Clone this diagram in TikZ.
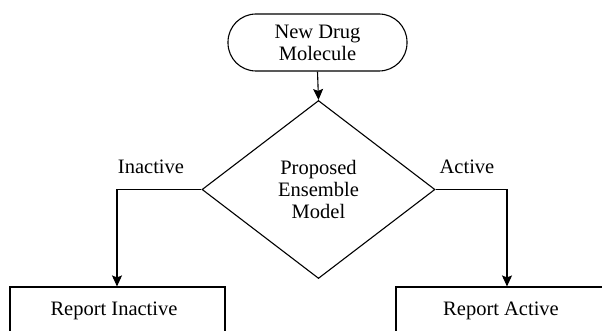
\documentclass[tikz,border=0pt]{standalone}
\usepackage{fontspec}
\setmainfont{Liberation Serif}
\usetikzlibrary{shapes.geometric,arrows.meta}
\begin{document}
\begin{tikzpicture}[x=1pt,y=-1pt,
  every node/.style={font=\fontsize{20.5}{22}\selectfont},
  line/.style={draw=black,line width=1.1pt},
  arr/.style={line,-{Stealth[length=11pt,width=10pt,inset=2pt]}},
  term/.style={line,rectangle,rounded corners=28pt,minimum width=179pt,minimum height=57pt,align=center,inner sep=0pt},
  decis/.style={line,diamond,minimum width=233pt,minimum height=178pt,inner sep=0pt,align=center},
  outbox/.style={line,rectangle,minimum width=215pt,minimum height=70pt,inner sep=0pt}]
\clip (0,0) rectangle (602,331);
\node[term] (start) at (317.5,42.5) {\baselineskip=20pt New Drug\\Molecule};
\node[decis] (dec) at (318.5,189.5) {\baselineskip=23pt Proposed\\Ensemble\\Model};
\node[outbox] (rin) at (117.5,322) {};
\node[outbox,minimum width=210pt] (ract) at (501,322) {};
\node (tin) at (114,311) {Report Inactive};
\node (tact) at (501,311) {Report Active};
\node (lin) at (151,167) {Inactive};
\node (lact) at (467,167) {Active};
\coordinate (ain) at ([xshift=-0.5pt]rin.north);
\coordinate (aact) at ([xshift=6pt]ract.north);
\draw[arr] (start.south) -- (dec.north);
\draw[arr] (dec.west) -| (ain);
\draw[arr] (dec.east) -| (aact);
\end{tikzpicture}
\end{document}
